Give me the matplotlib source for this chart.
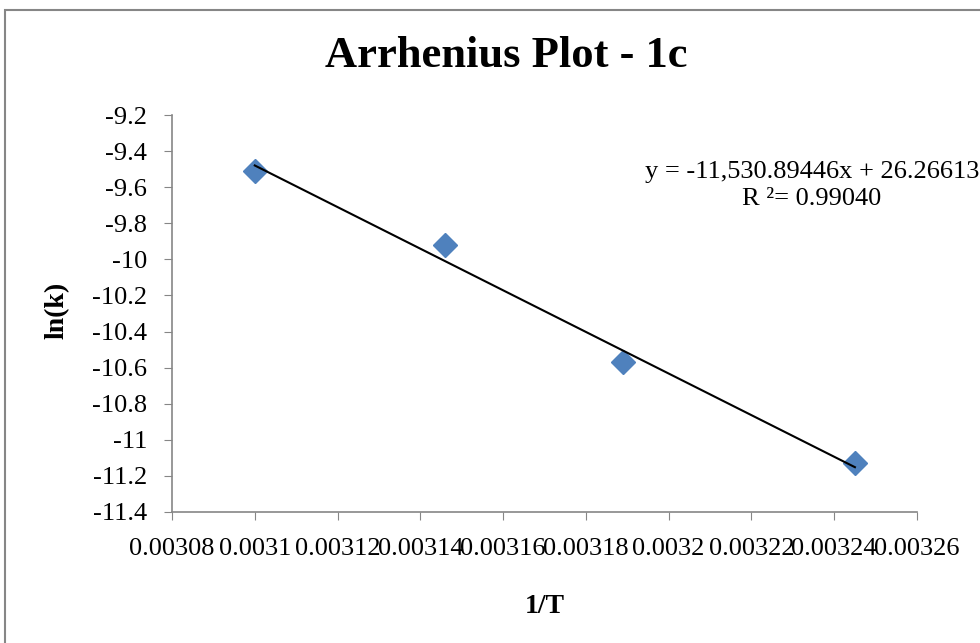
import matplotlib.pyplot as plt
from matplotlib.patches import Rectangle

plt.rcParams['font.family'] = ['Liberation Serif', 'DejaVu Serif']

# data
inv_T = [0.003100, 0.003146, 0.003189, 0.003245]
ln_k = [-9.51, -9.92, -10.57, -11.13]
slope = -11530.89446
intercept = 26.26613
r2 = 0.99040

x_ticks = [0.00308, 0.0031, 0.00312, 0.00314, 0.00316, 0.00318, 0.0032, 0.00322, 0.00324, 0.00326]
x_tick_labels = ['0.00308', '0.0031', '0.00312', '0.00314', '0.00316', '0.00318', '0.0032', '0.00322', '0.00324', '0.00326']
y_ticks = [-11.4, -11.2, -11, -10.8, -10.6, -10.4, -10.2, -10, -9.8, -9.6, -9.4, -9.2]
y_tick_labels = ['-11.4', '-11.2', '-11', '-10.8', '-10.6', '-10.4', '-10.2', '-10', '-9.8', '-9.6', '-9.4', '-9.2']

fig = plt.figure(figsize=(9.8, 6.43), dpi=100)
ax = fig.add_axes([172 / 980, 1 - 512 / 643, 745 / 980, 397 / 643])

# chart border
fig.patches.append(Rectangle((5 / 980, -0.1), 1.2, 1 - 10 / 643 + 0.1,
                             transform=fig.transFigure, fill=False,
                             edgecolor='#868686', linewidth=1.5))

ax.plot(inv_T, ln_k, linestyle='none', marker='D', markersize=12,
        color='#4F81BD', markeredgecolor='#4F81BD', zorder=2)

fit_x = [min(inv_T), max(inv_T)]
fit_y = [slope * v + intercept for v in fit_x]
ax.plot(fit_x, fit_y, color='black', linewidth=1.5, zorder=3)

ax.set_xlim(0.00308, 0.00326)
ax.set_ylim(-11.4, -9.2)
ax.set_xticks(x_ticks)
ax.set_xticklabels(x_tick_labels)
ax.set_yticks(y_ticks)
ax.set_yticklabels(y_tick_labels)

for s in ['top', 'right']:
    ax.spines[s].set_visible(False)
for s in ['left', 'bottom']:
    ax.spines[s].set_color('#868686')
    ax.spines[s].set_linewidth(1.2)
ax.tick_params(axis='both', direction='out', length=6, color='#868686',
               labelsize=19)
ax.tick_params(axis='x', pad=13)
ax.tick_params(axis='y', pad=12)

ax.set_xlabel('1/T', fontsize=20, fontweight='bold')
ax.xaxis.set_label_coords(0.5, -0.206)
ax.set_ylabel('ln(k)', fontsize=20, fontweight='bold')
ax.yaxis.set_label_coords(-0.137, 0.509)
fig.text(506 / 980, 1 - 56 / 643, 'Arrhenius Plot - 1c', fontsize=32,
         fontweight='bold', ha='center', va='center')

eq = 'y = -{:,.5f}x + {:.5f}'.format(-slope, intercept)
fig.text(812 / 980, 1 - 172 / 643, eq, fontsize=19, ha='center', va='center')
fig.text(812 / 980, 1 - 199 / 643, 'R ²= {:.5f}'.format(r2), fontsize=19,
         ha='center', va='center')

fig.savefig('out.png', dpi=100)
